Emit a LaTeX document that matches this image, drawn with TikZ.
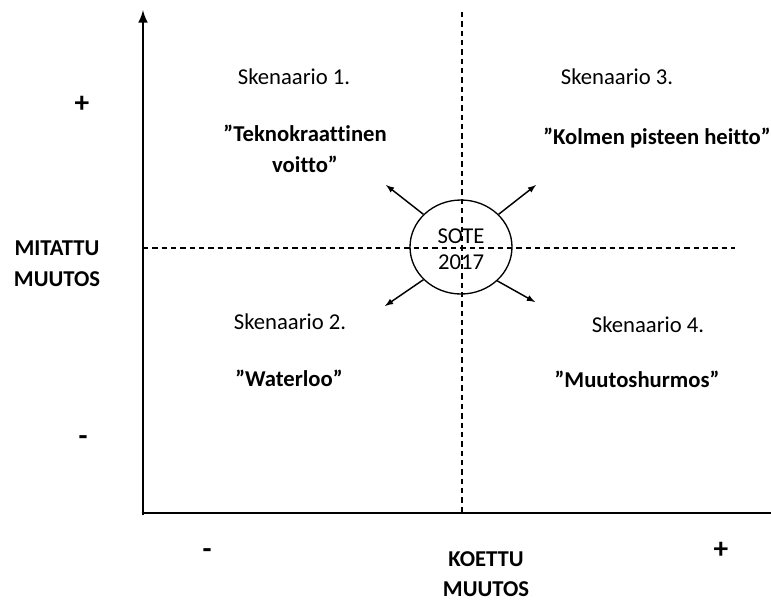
\documentclass[tikz,border=0pt]{standalone}
\usepackage{fontspec}
\setmainfont{Carlito}[Ligatures=NoCommon]
\usetikzlibrary{shapes.geometric}

\tikzset{
  axis/.style={line width=2.2pt,-latex},
  guide/.style={line width=0.8pt,dash pattern=on 4pt off 3pt},
  ray/.style={line width=1.1pt,-latex},
  label/.style={font=\fontsize{17}{21}\selectfont,align=center,inner sep=0pt},
  title/.style={label,font=\fontsize{17}{23}\selectfont\bfseries},
  sign/.style={label,font=\fontsize{22}{22}\selectfont\bfseries}
}

\begin{document}
\begin{tikzpicture}[x=0.75pt,y=-0.75pt]
  \useasboundingbox (0,0) rectangle (771,601);

  % axes and quadrant lines
  \coordinate (o)    at (143,515);
  \coordinate (ytop) at (143,10);
  \coordinate (xo)   at (141.5,513);
  \coordinate (xend) at (771,513);
  \coordinate (vtop) at (462,12);
  \coordinate (vbot) at (462,513);
  \coordinate (hl)   at (143,248);
  \coordinate (hr)   at (735,248);

  \draw[axis] (o) -- (ytop);
  \draw[line width=2.2pt] (xo) -- (xend);
  \draw[guide] (vtop) -- (vbot);
  \draw[guide] (hl) -- (hr);

  % centre
  \node (sote) at (461,247) [ellipse,draw,line width=1pt,minimum width=76.5pt,minimum height=70.5pt,inner sep=0pt] {};
  \node[label] at (461,236) {SOTE};
  \node[label] at (461,262) {2017};

  \coordinate (nw) at (386,185);
  \coordinate (ne) at (536,185);
  \coordinate (sw) at (385,306);
  \coordinate (se) at (535,302);
  \draw[ray] (sote.139) -- (nw);
  \draw[ray] (sote.41)  -- (ne);
  \draw[ray] (sote.221) -- (sw);
  \draw[ray] (sote.317) -- (se);

  % scenarios
  \begin{scope}[every node/.style={label}]
    \node (s1) at (294,77)  {Skenaario 1.};
    \node (s3) at (617,77)  {Skenaario 3.};
    \node (s2) at (290,322) {Skenaario 2.};
    \node (s4) at (648,325) {Skenaario 4.};
  \end{scope}

  \begin{scope}[every node/.style={title}]
    \node (t1) at (305,149) {”Teknokraattinen\\voitto”};
    \node (t3) at (657,138) {”Kolmen pisteen heitto”};
    \node (t2) at (289,378) {”Waterloo”};
    \node (t4) at (637,379) {”Muutoshurmos”};
    \node (ya) at (57,264)  {MITATTU\\MUUTOS};
    \node (xa) at (486,574) {KOETTU\\MUUTOS};
  \end{scope}

  % signs
  \begin{scope}[every node/.style={sign}]
    \node (yp) at (82,104)  {+};
    \node (ym) at (83,441)  {-};
    \node (xm) at (207,554) {-};
    \node (xp) at (721,550) {+};
  \end{scope}
\end{tikzpicture}
\end{document}
